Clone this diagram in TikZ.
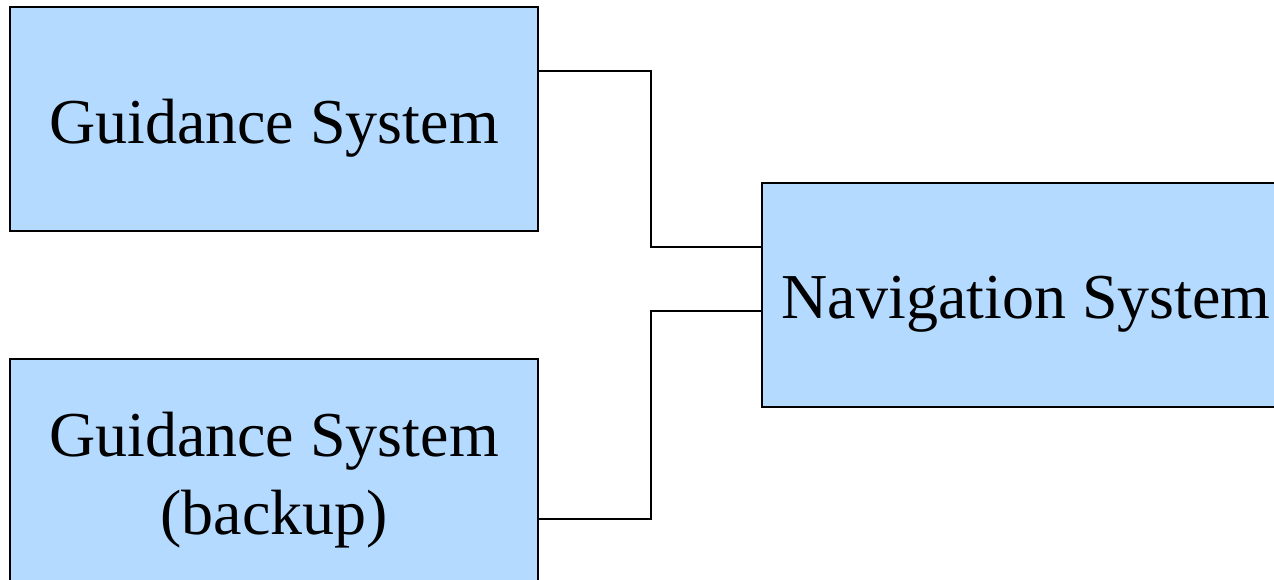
\documentclass[tikz,border=0pt]{standalone}
\usepackage{fontspec}
\setmainfont{Liberation Serif}
\definecolor{boxblue}{RGB}{180,218,255}
\begin{document}
\begin{tikzpicture}[x=1pt,y=-1pt,
  sysbox/.style={draw=black,line width=2pt,fill=boxblue,minimum width=528pt,
    minimum height=224pt,inner sep=0pt},
  systext/.style={inner sep=0pt,align=center,yshift=-9pt,
    font=\fontsize{64}{78}\selectfont},
  wire/.style={draw=black,line width=2pt}]
  \useasboundingbox (0,0) rectangle (1274,580);
  \clip (0,0) rectangle (1274,580);
  % boxes
  \node[sysbox] (guid) at (274,119) {};
  \node[sysbox] (backup) at (274,471) {};
  \node[sysbox] (nav) at (1026,295) {};
  % box captions
  \node[systext] (guidtext) at (guid.center) {Guidance System};
  \node[systext] (backuptext) at (backup.center) {Guidance System\\(backup)};
  \node[systext] (navtext) at (nav.center) {Navigation System};
  % connectors
  \draw[wire] ([yshift=48pt]guid.east) -- ++(112pt,0) |- ([yshift=48pt]nav.west);
  \draw[wire] ([yshift=-48pt]backup.east) -- ++(112pt,0) |- ([yshift=-16pt]nav.west);
\end{tikzpicture}
\end{document}
